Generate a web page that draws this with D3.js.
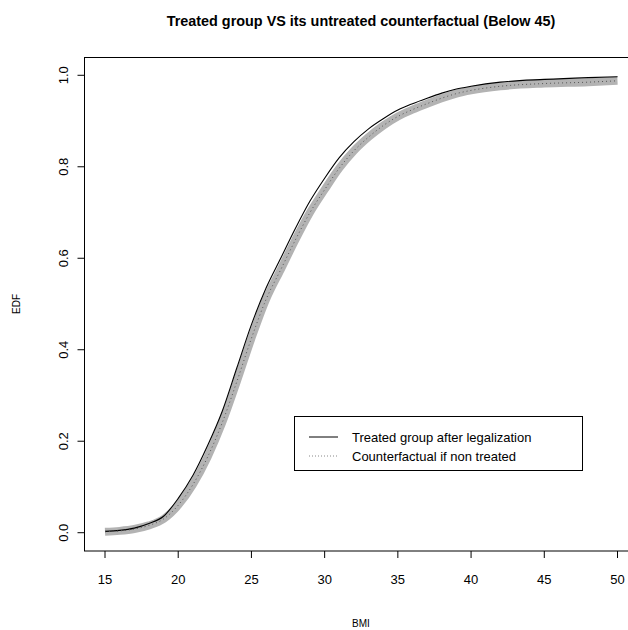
<!DOCTYPE html>
<html><head><meta charset="utf-8">
<script src="https://cdn.jsdelivr.net/npm/d3@7"></script>
<style>body{margin:0;background:#fff}svg{display:block;font-family:"Liberation Sans",Arial,sans-serif}</style>
</head><body>
<svg id="chart" width="628" height="630"></svg>
<script>
const title = "Treated group VS its untreated counterfactual (Below 45)";
const xLabel = "BMI";
const yLabel = "EDF";
const xTicks = [15, 20, 25, 30, 35, 40, 45, 50];
const yTicks = [0.0, 0.2, 0.4, 0.6, 0.8, 1.0];
const legendLabels = ["Treated group after legalization", "Counterfactual if non treated"];

const bmi = [15, 16, 17, 18, 19, 20, 21, 22, 23, 24, 25, 26, 27, 28, 29, 30, 31, 32, 33, 34, 35, 36, 37, 38, 39, 40, 42, 45, 48, 50];
const treated = [0.003, 0.005, 0.010, 0.020, 0.036, 0.075, 0.125, 0.190, 0.265, 0.360, 0.455, 0.535, 0.600, 0.665, 0.725, 0.775, 0.820, 0.855, 0.883, 0.905, 0.924, 0.938, 0.950, 0.961, 0.970, 0.976, 0.985, 0.991, 0.995, 0.997];
const counterfactual = [0.002, 0.004, 0.008, 0.016, 0.030, 0.060, 0.105, 0.165, 0.240, 0.330, 0.425, 0.510, 0.575, 0.640, 0.700, 0.750, 0.797, 0.835, 0.865, 0.890, 0.910, 0.925, 0.938, 0.950, 0.960, 0.967, 0.976, 0.982, 0.985, 0.988];

const svg = d3.select("#chart");
const x = d3.scaleLinear().domain([13.6, 51.4]).range([84.5, 638]);
const y = d3.scaleLinear().domain([-0.04, 1.04]).range([551, 57]);

// title
svg.append("text").attr("x", 361).attr("y", 26).attr("text-anchor", "middle")
  .attr("font-size", 14.4).attr("font-weight", "bold").text(title);

// data lines
const lineOf = arr => d3.line().x((d, i) => x(bmi[i])).y(d => y(d)).curve(d3.curveMonotoneX)(arr);
svg.append("path").attr("d", lineOf(counterfactual)).attr("fill", "none")
  .attr("stroke", "#b3b3b3").attr("stroke-width", 8).attr("stroke-linecap", "butt");
svg.append("path").attr("d", lineOf(treated)).attr("fill", "none")
  .attr("stroke", "#000").attr("stroke-width", 1.1);
svg.append("path").attr("d", lineOf(counterfactual)).attr("fill", "none")
  .attr("stroke", "#555").attr("stroke-width", 1).attr("stroke-dasharray", "1,3");

// box
svg.append("rect").attr("x", 84.5).attr("y", 57.5).attr("width", 553.5).attr("height", 493.5)
  .attr("fill", "none").attr("stroke", "#000").attr("stroke-width", 1);

// x axis
const gx = svg.append("g");
gx.selectAll("line").data(xTicks).join("line")
  .attr("x1", d => x(d)).attr("x2", d => x(d)).attr("y1", 551).attr("y2", 558)
  .attr("stroke", "#000");
gx.selectAll("text").data(xTicks).join("text")
  .attr("x", d => x(d)).attr("y", 584).attr("text-anchor", "middle")
  .attr("font-size", 13).text(d => d);
// y axis
const gy = svg.append("g");
gy.selectAll("line").data(yTicks).join("line")
  .attr("x1", 84.5).attr("x2", 77.5).attr("y1", d => y(d)).attr("y2", d => y(d))
  .attr("stroke", "#000");
gy.selectAll("text").data(yTicks).join("text")
  .attr("transform", d => `translate(68,${y(d)}) rotate(-90)`).attr("text-anchor", "middle")
  .attr("font-size", 13).text(d => d.toFixed(1));

svg.append("text").attr("x", 361).attr("y", 627).attr("text-anchor", "middle")
  .attr("font-size", 10).text(xLabel);
svg.append("text").attr("transform", "translate(20,304) rotate(-90)").attr("text-anchor", "middle")
  .attr("font-size", 10).text(yLabel);

// legend
const lg = svg.append("g");
lg.append("rect").attr("x", 294.5).attr("y", 416.5).attr("width", 288).attr("height", 54)
  .attr("fill", "#fff").attr("stroke", "#000");
legendLabels.forEach((lab, i) => {
  const ly = 437 + i * 19;
  lg.append("line").attr("x1", 309).attr("x2", 338).attr("y1", ly).attr("y2", ly)
    .attr("stroke", i === 0 ? "#000" : "#888").attr("stroke-dasharray", i === 0 ? null : "1,2");
  lg.append("text").attr("x", 352).attr("y", ly + 5).attr("font-size", 13).text(lab);
});
</script>
</body></html>
